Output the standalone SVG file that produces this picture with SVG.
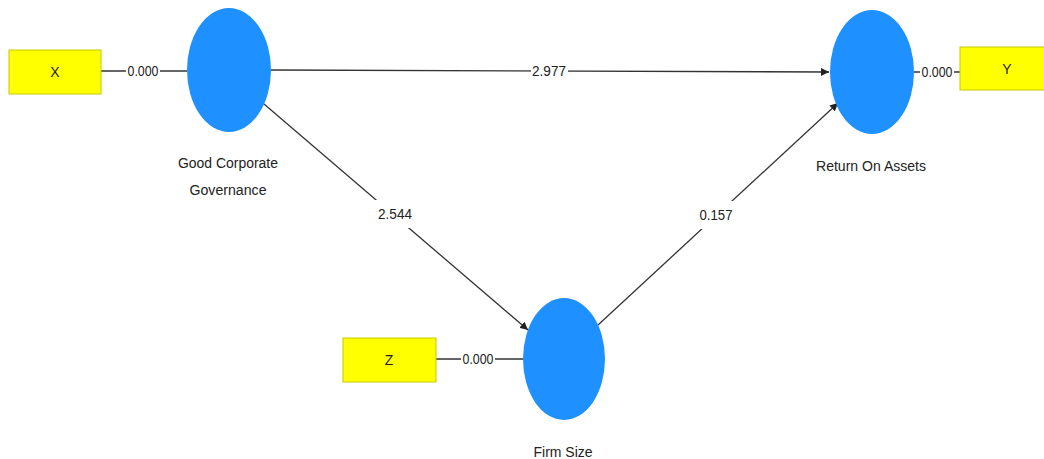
<svg xmlns="http://www.w3.org/2000/svg" width="1044" height="459" viewBox="0 0 1044 459">
<defs>
<style>
.ind{fill:#ffff00;stroke:#c8c800;stroke-width:1}
.lv{fill:#1e90ff}
.ln{stroke:#333;stroke-width:1.3;fill:none}
.t{font-family:"Liberation Sans",Arial,sans-serif;font-size:14px;fill:#222;text-anchor:middle}
.lab{font-family:"Liberation Sans",Arial,sans-serif;font-size:14px;fill:#222;text-anchor:middle}
.wb{fill:#fff}
</style>
<marker id="arr" viewBox="0 0 10 10" refX="10" refY="5" markerWidth="8" markerHeight="8" markerUnits="userSpaceOnUse" orient="auto">
<path d="M0,0 L10,5 L0,10 z" fill="#222"/>
</marker>
</defs>
<rect width="1044" height="459" fill="#fff"/>
<g id="connectors">
<line class="ln" x1="101" y1="71" x2="187" y2="71"/>
<rect class="wb" x="126" y="63" width="34" height="16"/>
<text class="t" x="143" y="76" textLength="31" lengthAdjust="spacingAndGlyphs">0.000</text>
<line class="ln" x1="436" y1="359" x2="523" y2="359"/>
<rect class="wb" x="461" y="351" width="34" height="16"/>
<text class="t" x="478" y="364" textLength="31" lengthAdjust="spacingAndGlyphs">0.000</text>
<line class="ln" x1="914" y1="72" x2="960" y2="72"/>
<rect class="wb" x="920" y="64" width="34" height="16"/>
<text class="t" x="937" y="77" textLength="31" lengthAdjust="spacingAndGlyphs">0.000</text>
<line class="ln" x1="271" y1="70" x2="829" y2="72" marker-end="url(#arr)"/>
<rect class="wb" x="531" y="63" width="37" height="16"/>
<text class="t" x="549" y="76" textLength="34" lengthAdjust="spacingAndGlyphs">2.977</text>
<line class="ln" x1="264" y1="104" x2="528" y2="330" marker-end="url(#arr)"/>
<rect class="wb" x="374" y="200" width="41" height="28"/>
<text class="t" x="395" y="219" textLength="34" lengthAdjust="spacingAndGlyphs">2.544</text>
<line class="ln" x1="598" y1="325" x2="838" y2="103" marker-end="url(#arr)"/>
<rect class="wb" x="696" y="201" width="41" height="28"/>
<text class="t" x="716" y="220" textLength="33" lengthAdjust="spacingAndGlyphs">0.157</text>
</g>
<g id="node-x">
<rect class="ind" x="9" y="50" width="92" height="44"/>
<text class="t" x="55" y="77">X</text>
</g>
<g id="node-z">
<rect class="ind" x="343" y="338" width="93" height="44"/>
<text class="t" x="389" y="365">Z</text>
</g>
<g id="node-y">
<rect class="ind" x="960" y="47" width="92" height="43"/>
<text class="t" x="1007" y="74">Y</text>
</g>
<g id="node-gcg">
<ellipse class="lv" cx="229" cy="70" rx="42" ry="62"/>
<text class="lab" x="228" y="168" textLength="100" lengthAdjust="spacingAndGlyphs">Good Corporate</text>
<text class="lab" x="228" y="195" textLength="77" lengthAdjust="spacingAndGlyphs">Governance</text>
</g>
<g id="node-roa">
<ellipse class="lv" cx="872" cy="72" rx="42" ry="62"/>
<text class="lab" x="871" y="171" textLength="110" lengthAdjust="spacingAndGlyphs">Return On Assets</text>
</g>
<g id="node-firm">
<ellipse class="lv" cx="564" cy="359" rx="41" ry="61"/>
<text class="lab" x="563" y="457" textLength="59" lengthAdjust="spacingAndGlyphs">Firm Size</text>
</g>
</svg>
